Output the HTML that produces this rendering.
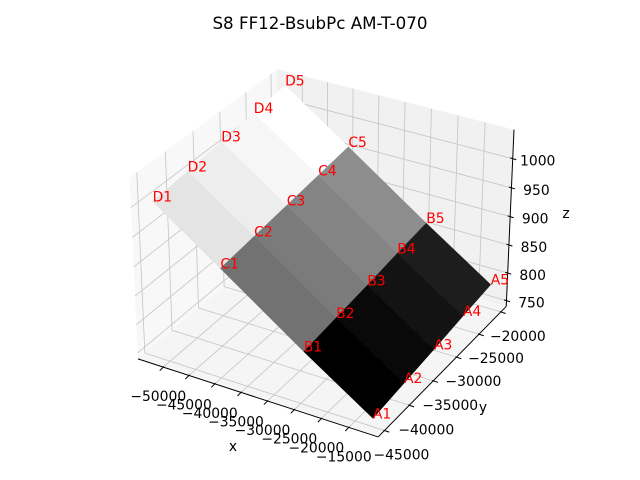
<!DOCTYPE html>
<html><head><meta charset="utf-8"><style>
html,body{margin:0;padding:0;background:#fff}
svg{display:block}
text{font-family:"DejaVu Sans","Liberation Sans",sans-serif}
</style></head><body>
<svg id="chart" xmlns="http://www.w3.org/2000/svg" width="640" height="480" viewBox="0 0 640 480">
<rect width="640" height="480" fill="#fff"/>
<text x="320" y="29" text-anchor="middle" font-size="16.7" fill="#000">S8 FF12-BsubPc AM-T-070</text>
<g id="panes"></g>
<g id="grid"></g>
<g id="axes"></g>
<g id="surface"></g>
<g id="labels"></g>
<text x="233" y="451" text-anchor="middle" font-size="13.9">x</text>
<text x="483" y="412" text-anchor="middle" font-size="13.9">y</text>
<text x="566" y="218" text-anchor="middle" font-size="13.9">z</text>
</svg>
<script>
// ---- data ----
const rowNames = ['A','B','C','D'];
const xRow = [-11800, -24400, -39700, -52200];
const yCol = [-45000, -38750, -32500, -26250, -20000];
const zA = [754, 761, 768, 776, 783];
const zB = [831, 838, 845, 853, 860];
const zC = [929, 936, 943, 950, 957];
const zD = [1008, 1014, 1021, 1028, 1035];
const xTicks = [-50000,-45000,-40000,-35000,-30000,-25000,-20000,-15000];
const yTicks = [-45000,-40000,-35000,-30000,-25000,-20000];
const zTicks = [750,800,850,900,950,1000];
const xlim = [-55000, -9700], ylim = [-46250, -18750], zlim = [739.5, 1049];
const zRows = [zA, zB, zC, zD];

// ---- projection (matplotlib-like) ----
const NS = 'http://www.w3.org/2000/svg';
const asp0 = [4,4,3];
const an = Math.hypot(...asp0);
const AS = asp0.map(a => a*1.8294640721620434/an);
const el = 30*Math.PI/180, az = -60*Math.PI/180;
const ps = [Math.cos(el)*Math.cos(az), Math.cos(el)*Math.sin(az), Math.sin(el)];
const R = [AS[0]/2, AS[1]/2, AS[2]/2];
const eye = R.map((r,i) => r + 10*ps[i]);
function cross(a,b){return [a[1]*b[2]-a[2]*b[1], a[2]*b[0]-a[0]*b[2], a[0]*b[1]-a[1]*b[0]];}
function nrm(a){const l=Math.hypot(...a);return a.map(v=>v/l);}
function dot(a,b){return a[0]*b[0]+a[1]*b[1]+a[2]*b[2];}
const W = ps, U = nrm(cross([0,0,1], W)), V = cross(W, U);
function raw(x,y,z){
  const p=[(x-xlim[0])/(xlim[1]-xlim[0])*AS[0],(y-ylim[0])/(ylim[1]-ylim[0])*AS[1],(z-zlim[0])/(zlim[1]-zlim[0])*AS[2]];
  const d=[p[0]-eye[0],p[1]-eye[1],p[2]-eye[2]];
  const zc=dot(W,d);
  return [dot(U,d)/-zc, dot(V,d)/-zc, -zc];
}
const calib = [
  [[xlim[0],ylim[0],zlim[0]],[138,359]],
  [[xlim[1],ylim[0],zlim[0]],[379,438]],
  [[xlim[1],ylim[1],zlim[0]],[505,307]],
  [[xlim[1],ylim[1],zlim[1]],[514,130]],
  [[xlim[0],ylim[1],zlim[1]],[277,70]],
  [[xlim[0],ylim[0],zlim[1]],[130,175]]
];
const pr = calib.map(c => {const r=raw(...c[0]);return [r[0],-r[1]];});
const qs = calib.map(c => c[1]);
const mp=[0,0], mq=[0,0];
pr.forEach((p,i)=>{mp[0]+=p[0]/6;mp[1]+=p[1]/6;mq[0]+=qs[i][0]/6;mq[1]+=qs[i][1]/6;});
let num=0, den=0;
pr.forEach((p,i)=>{const dx=p[0]-mp[0],dy=p[1]-mp[1];num+=dx*(qs[i][0]-mq[0])+dy*(qs[i][1]-mq[1]);den+=dx*dx+dy*dy;});
const S = num/den;
const C0 = [mq[0]-S*mp[0], mq[1]-S*mp[1]];
function P(x,y,z){const r=raw(x,y,z);return [C0[0]+S*r[0], C0[1]-S*r[1], r[2]];}

function mk(tag, attrs, parent){const e=document.createElementNS(NS,tag);for(const k in attrs)e.setAttribute(k,attrs[k]);parent.appendChild(e);return e;}
const gP=document.getElementById('panes'), gG=document.getElementById('grid'), gA=document.getElementById('axes'), gS=document.getElementById('surface'), gL=document.getElementById('labels');
function poly(pts){return pts.map(p=>{const q=P(...p);return q[0].toFixed(2)+','+q[1].toFixed(2);}).join(' ');}
const [x0,x1]=xlim,[y0,y1]=ylim,[z0,z1]=zlim;

// panes
let e;
e=mk('polygon',{points:poly([[x0,y0,z0],[x1,y0,z0],[x1,y1,z0],[x0,y1,z0]]),fill:'#f5f5f5'},gP);


e=mk('polygon',{points:poly([[x0,y0,z0],[x0,y1,z0],[x0,y1,z1],[x0,y0,z1]]),fill:'#f8f8f8'},gP);


e=mk('polygon',{points:poly([[x0,y1,z0],[x1,y1,z0],[x1,y1,z1],[x0,y1,z1]]),fill:'#f1f1f1'},gP);



function line(a,b,parent,stroke,w,name){
  const p=P(...a), q=P(...b);
  const l=mk('line',{x1:p[0],y1:p[1],x2:q[0],y2:q[1],stroke:stroke,'stroke-width':w},parent);
  
  
  return l;
}
const gc='#c4c4c4';
xTicks.forEach(t=>{line([t,y0,z0],[t,y1,z0],gG,gc,0.8,'grid-line-x');line([t,y1,z0],[t,y1,z1],gG,gc,0.8,'grid-line-x');});
yTicks.forEach(t=>{line([x0,t,z0],[x1,t,z0],gG,gc,0.8,'grid-line-y');line([x0,t,z0],[x0,t,z1],gG,gc,0.8,'grid-line-y');});
zTicks.forEach(t=>{line([x0,y0,t],[x0,y1,t],gG,gc,0.8,'grid-line-z');line([x0,y1,t],[x1,y1,t],gG,gc,0.8,'grid-line-z');});

// axis lines
line([x0,y0,z0],[x1,y0,z0],gA,'#000',1,'x-axis-line');
line([x1,y0,z0],[x1,y1,z0],gA,'#000',1,'y-axis-line');
line([x1,y1,z0],[x1,y1,z1],gA,'#000',1,'z-axis-line');

function tickText(x,y,s,name){
  const t=mk('text',{x:x,y:y,'text-anchor':'middle','font-size':'13.9',fill:'#000'},gA);
  
  
  t.textContent=s;
}
function fmt(v){return (v<0?'\u2212':'')+Math.abs(v);}
xTicks.forEach(t=>{
  const p=P(t,y0,z0);
  const m=mk('line',{x1:p[0]+0.7,y1:p[1]-0.7,x2:p[0]-3.5,y2:p[1]+3.6,stroke:'#000','stroke-width':1},gA);
  
  
  tickText(p[0]-5,p[1]+34,fmt(t),'x-tick-label');
});
yTicks.forEach(t=>{
  const p=P(x1,t,z0);
  const m=mk('line',{x1:p[0]-1,y1:p[1]-0.3,x2:p[0]+4.8,y2:p[1]+1.6,stroke:'#000','stroke-width':1},gA);
  
  
  tickText(p[0]+17,p[1]+29,fmt(t),'y-tick-label');
});
zTicks.forEach(t=>{
  const p=P(x1,y1,t);
  const m=mk('line',{x1:p[0]-2.5,y1:p[1]-0.8,x2:p[0]+3.5,y2:p[1]+1.1,stroke:'#000','stroke-width':1},gA);
  
  
  tickText(p[0]+25,p[1]+7,fmt(t),'z-tick-label');
});

// surface quads
const quads=[];
for(let r=0;r<rowNames.length-1;r++){
  for(let c=0;c<yCol.length-1;c++){
    const pts=[[xRow[r],yCol[c],zRows[r][c]],[xRow[r],yCol[c+1],zRows[r][c+1]],[xRow[r+1],yCol[c+1],zRows[r+1][c+1]],[xRow[r+1],yCol[c],zRows[r+1][c]]];
    const avg=(zRows[r][c]+zRows[r][c+1]+zRows[r+1][c]+zRows[r+1][c+1])/4;
    const depth=pts.reduce((s,p)=>s+P(...p)[2],0)/4;
    quads.push({pts,avg,depth,r,c});
  }
}
const mn=Math.min(...quads.map(q=>q.avg)), mx=Math.max(...quads.map(q=>q.avg));
quads.sort((a,b)=>b.depth-a.depth);
quads.forEach(q=>{
  const g=Math.round((q.avg-mn)/(mx-mn)*255);
  const col='rgb('+g+','+g+','+g+')';
  const pg=mk('polygon',{points:poly(q.pts),fill:col,stroke:col,'stroke-width':0.4},gS);
  
  
});

// point labels
for(let r=0;r<rowNames.length;r++){
  for(let c=0;c<yCol.length;c++){
    const p=P(xRow[r],yCol[c],zRows[r][c]);
    const t=mk('text',{x:p[0],y:p[1],'font-size':'13.9',fill:'#ff0000'},gL);
    
    
    t.textContent=rowNames[r]+(c+1);
  }
}
</script>
</body></html>
